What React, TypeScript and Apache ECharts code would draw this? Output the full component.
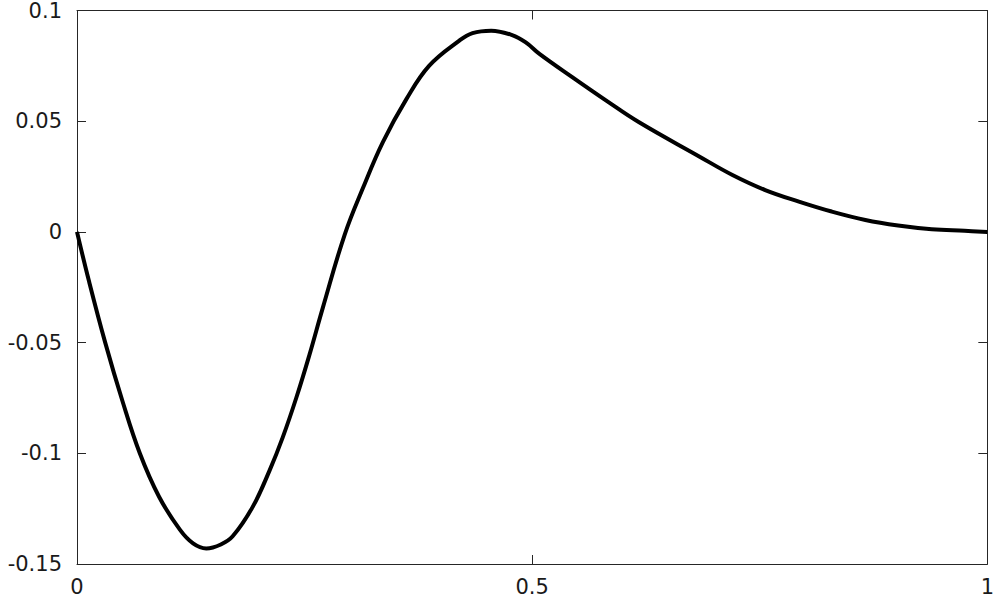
import React, { useEffect, useRef } from "react";
import * as echarts from "echarts";

const xValues = [0, 0.013, 0.031, 0.05, 0.069, 0.09, 0.113, 0.1275, 0.142, 0.158, 0.171, 0.193, 0.2116, 0.226, 0.241, 0.2555, 0.27, 0.294, 0.314, 0.336, 0.362, 0.387, 0.42, 0.4345, 0.455, 0.478, 0.493, 0.508, 0.544, 0.581, 0.617, 0.683, 0.72, 0.756, 0.793, 0.829, 0.866, 0.902, 0.939, 0.975, 1.0];
const yValues = [0, -0.022, -0.05, -0.0765, -0.1, -0.1195, -0.1345, -0.1407, -0.143, -0.1412, -0.1375, -0.1242, -0.1077, -0.0928, -0.0748, -0.0553, -0.0343, -0.0013, 0.0197, 0.0406, 0.0601, 0.0751, 0.0864, 0.0898, 0.0909, 0.0889, 0.0856, 0.0804, 0.0699, 0.0594, 0.0496, 0.0342, 0.0257, 0.0189, 0.0137, 0.0092, 0.0054, 0.0029, 0.0012, 0.0005, 0];

const xTicks = { min: 0, max: 1, interval: 0.5 };
const yTicks = { min: -0.15, max: 0.1, interval: 0.05 };

export default function App() {
  const ref = useRef<HTMLDivElement>(null);
  useEffect(() => {
    if (!ref.current) return;
    const chart = echarts.init(ref.current, null, { renderer: "svg" });
    const axisColor = "#262626";
    const font = "'DejaVu Sans', 'Liberation Sans', Arial, sans-serif";
    const data = xValues.map((x, i) => [x, yValues[i]]);
    const common = {
      axisLine: { show: true, onZero: false, lineStyle: { color: axisColor, width: 1 } },
      axisTick: { show: true, inside: true, length: 9, lineStyle: { color: axisColor, width: 1 } },
      splitLine: { show: false },
    };
    chart.setOption({
      animation: false,
      backgroundColor: "#ffffff",
      grid: { left: 77, top: 8, right: 8, bottom: 34, containLabel: false },
      xAxis: [
        {
          type: "value",
          position: "bottom",
          ...xTicks,
          ...common,
          axisLabel: { color: "#1a1a1a", fontSize: 21, fontFamily: font, margin: 12 },
        },
        {
          type: "value",
          position: "top",
          ...xTicks,
          ...common,
          axisLabel: { show: false },
        },
      ],
      yAxis: [
        {
          type: "value",
          position: "left",
          ...yTicks,
          ...common,
          axisLabel: { color: "#1a1a1a", fontSize: 21, fontFamily: font, margin: 15 },
        },
        {
          type: "value",
          position: "right",
          ...yTicks,
          ...common,
          axisLabel: { show: false },
        },
      ],
      series: [
        {
          type: "line",
          data,
          xAxisIndex: 0,
          yAxisIndex: 0,
          showSymbol: false,
          smooth: 0.4,
          lineStyle: { color: "#000", width: 4 },
        },
      ],
    });
    return () => chart.dispose();
  }, []);
  return (
    <div
      ref={ref}
      style={{ position: "absolute", left: 0, top: 0, width: 997, height: 598, background: "#fff" }}
    />
  );
}
